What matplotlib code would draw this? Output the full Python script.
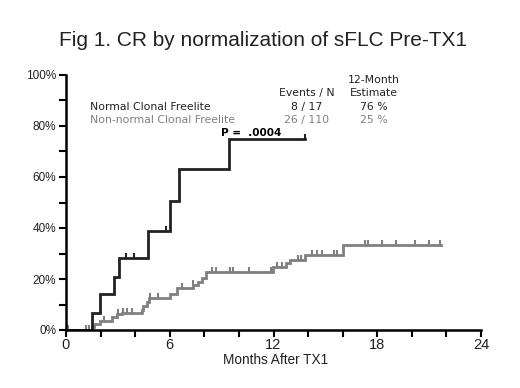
import numpy as np
import matplotlib
matplotlib.use("Agg")
import matplotlib.pyplot as plt
from matplotlib.ticker import MultipleLocator, FuncFormatter

# ---- data ----
normal_times = [0, 1.49, 1.96, 2.79, 3.08, 4.76, 6.0, 6.53, 9.44]
normal_vals = [0, 6.8, 14.0, 20.7, 28.4, 38.8, 50.6, 63.0, 74.9]
normal_end = 13.8
normal_censor = [3.45, 3.93, 5.78, 13.8]

abn_times = [0, 1.48, 1.64, 1.97, 2.64, 2.93, 3.22, 4.37, 4.47, 4.7, 4.82, 6.0,
             6.4, 7.36, 7.65, 7.84, 8.07, 11.98, 12.75, 12.95, 13.8, 16.0]
abn_vals = [0, 1.3, 2.35, 3.66, 5.2, 6.3, 6.8, 7.8, 9.4, 11.1, 12.5, 14.1,
            16.3, 17.6, 19.0, 20.3, 22.9, 24.8, 26.1, 27.5, 29.4, 33.3]
abn_end = 21.7
abn_censor = [0.1, 1.16, 1.35, 2.2, 3.02, 3.31, 3.5, 3.8, 4.86, 5.34, 6.69, 7.36,
              8.42, 8.67, 9.48, 9.67, 10.6, 11.83, 12.2, 12.5, 13.4, 13.6, 14.2,
              14.5, 14.8, 15.5, 15.7, 17.28, 17.47, 18.25, 19.1, 20.2, 21.0, 21.6]

series_names = ["Normal Clonal Freelite", "Non-normal Clonal Freelite"]
events_n = ["8 / 17", "26 / 110"]
estimates = ["76 %", "25 %"]
x_ticks = [0, 6, 12, 18, 24]
y_ticks = [0, 20, 40, 60, 80, 100]

BLACK = "#222222"
GRAY = "#808080"

W, H = 520, 388
fig = plt.figure(figsize=(W / 100, H / 100), dpi=100)
ax = fig.add_axes([66 / W, 1 - 330 / H, (481 - 66) / W, (330 - 75) / H])


def step_curve(times, vals, end):
    t = list(times) + [end]
    v = list(vals) + [vals[-1]]
    return t, v


def value_at(times, vals, x):
    idx = np.searchsorted(times, x, side="right") - 1
    return np.array(vals)[idx]


tick_marker = [(0, 0), (0, 1)]

for times, vals, end, cens, col in [
    (abn_times, abn_vals, abn_end, abn_censor, GRAY),
    (normal_times, normal_vals, normal_end, normal_censor, BLACK),
]:
    t, v = step_curve(times, vals, end)
    ax.step(t, v, where="post", color=col, lw=2.0, solid_joinstyle="miter")
    cy = value_at(times, vals, np.array(cens))
    ax.plot(cens, cy, linestyle="none", marker=tick_marker, markersize=7,
            markeredgewidth=1.5, color=col)

ax.set_xlim(0, 24)
ax.set_ylim(0, 100)
ax.xaxis.set_minor_locator(MultipleLocator(2))
ax.yaxis.set_minor_locator(MultipleLocator(10))
ax.set_xticks(x_ticks)
ax.set_yticks(y_ticks)
ax.yaxis.set_major_formatter(FuncFormatter(lambda v, p: f"{int(v)}%"))

for s in ["top", "right"]:
    ax.spines[s].set_visible(False)
for s in ["left", "bottom"]:
    ax.spines[s].set_linewidth(1.8)
    ax.spines[s].set_color("black")

ax.tick_params(which="both", direction="out", length=5, width=1.5, color="black")
ax.tick_params(axis="y", labelsize=8.5, pad=2, labelcolor="#222222")
ax.tick_params(axis="x", labelsize=10.5, pad=1, labelcolor="#222222")

fontfam = ["Liberation Sans", "DejaVu Sans"]
for lab in ax.get_xticklabels() + ax.get_yticklabels():
    lab.set_family(fontfam)

fig.text(276 / W, 1 - 360 / H, "Months After TX1", ha="center", va="center",
         fontsize=9.8, family=fontfam, color="#222222")

fig.text(263 / W, 1 - 40 / H, "Fig 1. CR by normalization of sFLC Pre-TX1",
         ha="center", va="center", fontsize=15, family=fontfam, color="#222222")

legfam = ["DejaVu Sans"]


def ftext(x, y, s, **kw):
    kw.setdefault("family", legfam)
    kw.setdefault("fontsize", 7.8)
    fig.text(x / W, 1 - y / H, s, va="center", **kw)


ftext(90, 107, series_names[0], ha="left", color="#222222")
ftext(90, 120, series_names[1], ha="left", color=GRAY)
ftext(374, 80, "12-Month", ha="center", color="#222222")
ftext(307, 93, "Events / N", ha="center", color="#222222")
ftext(374, 93, "Estimate", ha="center", color="#222222")
ftext(307, 107, events_n[0], ha="center", color="#222222")
ftext(307, 120, events_n[1], ha="center", color=GRAY)
ftext(374, 107, estimates[0], ha="center", color="#222222")
ftext(374, 120, estimates[1], ha="center", color=GRAY)
ftext(221, 133, "P =  .0004", ha="left", color="black", fontweight="bold",
      fontsize=7.5)

fig.savefig("out.png", dpi=100, facecolor="white")
